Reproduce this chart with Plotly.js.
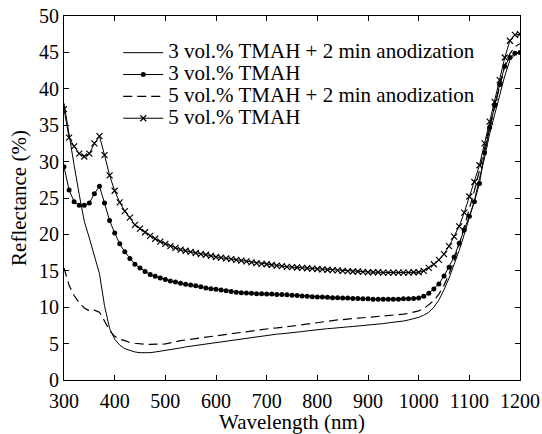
<!DOCTYPE html>
<html>
<head>
<meta charset="utf-8">
<script src="https://cdn.plot.ly/plotly-3.0.1.min.js"></script>
<style>
html,body{margin:0;padding:0;background:#fff;}
.modebar-container, .modebar { display: none !important; }
</style>
</head>
<body>
<div id="chart"></div>
<script>
// Wavelength (nm), 300..1200 in 10 nm steps
const wavelength = [300,310,320,330,340,350,360,370,380,390,400,410,420,430,440,450,460,470,480,490,500,510,520,530,540,550,560,570,580,590,600,610,620,630,640,650,660,670,680,690,700,710,720,730,740,750,760,770,780,790,800,810,820,830,840,850,860,870,880,890,900,910,920,930,940,950,960,970,980,990,1000,1010,1020,1030,1040,1050,1060,1070,1080,1090,1100,1110,1120,1130,1140,1150,1160,1170,1180,1190,1200];

const tmah3Anod = [38.0,33.5,29.5,25.5,21.8,19.5,17.0,14.6,10.2,7.1,5.6,4.8,4.3,4.05,3.85,3.75,3.7,3.75,3.85,3.95,4.0,4.1,4.25,4.4,4.55,4.65,4.75,4.85,5.0,5.1,5.2,5.25,5.35,5.45,5.55,5.65,5.75,5.85,5.95,6.05,6.1,6.2,6.3,6.35,6.4,6.45,6.55,6.65,6.75,6.85,6.9,6.95,7.05,7.1,7.2,7.25,7.3,7.35,7.4,7.45,7.55,7.6,7.7,7.75,7.85,7.9,8.0,8.1,8.25,8.4,8.6,8.9,9.3,10.0,11.0,12.4,14.0,15.9,17.8,20.0,22.2,24.6,27.7,30.5,33.8,36.6,39.1,41.8,43.9,44.7,45.0];

const tmah3 = [29.3,26.1,24.5,24.0,24.0,24.3,25.6,26.6,24.3,21.9,20.2,18.7,17.6,16.7,15.9,15.4,14.9,14.5,14.25,14.0,13.8,13.6,13.45,13.3,13.15,13.05,12.95,12.8,12.65,12.55,12.45,12.35,12.25,12.15,12.05,12.0,11.95,11.9,11.85,11.85,11.8,11.8,11.75,11.75,11.7,11.65,11.6,11.55,11.5,11.45,11.4,11.4,11.35,11.3,11.3,11.25,11.25,11.2,11.2,11.15,11.15,11.1,11.1,11.1,11.1,11.1,11.1,11.15,11.15,11.2,11.25,11.5,11.9,12.5,13.2,14.3,15.5,16.9,18.8,20.6,22.5,24.5,27.0,31.2,34.7,37.7,40.6,43.1,44.3,44.9,45.0];

const tmah5Anod = [15.4,13.0,11.6,10.6,9.9,9.5,9.6,9.3,8.1,6.8,6.0,5.6,5.4,5.15,5.05,4.95,4.9,4.9,4.9,4.9,4.95,5.1,5.3,5.4,5.5,5.6,5.7,5.8,5.9,6.0,6.1,6.2,6.3,6.4,6.45,6.5,6.6,6.75,6.85,6.95,7.0,7.1,7.15,7.2,7.3,7.4,7.5,7.6,7.7,7.8,7.9,8.0,8.1,8.2,8.25,8.3,8.4,8.45,8.5,8.55,8.6,8.65,8.7,8.75,8.85,8.9,8.95,9.05,9.15,9.3,9.5,9.8,10.3,10.9,11.8,13.0,14.6,16.4,18.6,21.0,23.5,26.0,28.8,31.9,34.9,37.5,40.4,43.2,44.8,45.8,46.2];

const tmah5 = [37.2,33.3,32.1,31.1,30.7,31.1,32.5,33.5,30.9,28.1,26.0,24.4,23.2,22.3,21.3,20.8,20.3,19.8,19.4,19.0,18.7,18.4,18.15,17.9,17.75,17.6,17.45,17.3,17.2,17.05,16.9,16.8,16.7,16.6,16.5,16.4,16.3,16.15,16.05,15.95,15.9,15.8,15.7,15.65,15.55,15.5,15.45,15.4,15.35,15.3,15.25,15.2,15.15,15.1,15.05,15.0,14.95,14.9,14.9,14.85,14.8,14.8,14.8,14.75,14.75,14.75,14.75,14.75,14.75,14.8,14.8,15.0,15.4,15.9,16.5,17.3,18.4,19.7,21.1,23.0,25.2,27.2,29.5,32.5,35.5,38.2,41.2,44.3,46.6,47.4,47.5];

const seriesNames = ["3 vol.% TMAH + 2 min anodization","3 vol.% TMAH","5 vol.% TMAH + 2 min anodization","5 vol.% TMAH"];
const xTicks = [300,400,500,600,700,800,900,1000,1100,1200];
const yTicks = [0,5,10,15,20,25,30,35,40,45,50];

const legendLabel = (s) => '<span style="font-size:21px">' + s + '</span>';

const traces = [
  {x: wavelength, y: tmah3Anod, name: legendLabel(seriesNames[0]), mode: "lines",
   line: {color: "#000", width: 1}},
  {x: wavelength, y: tmah3, name: legendLabel(seriesNames[1]), mode: "lines+markers",
   line: {color: "#000", width: 1}, marker: {symbol: "circle", size: 5, color: "#000"}},
  {x: wavelength, y: tmah5Anod, name: legendLabel(seriesNames[2]), mode: "lines",
   line: {color: "#000", width: 1.2, dash: "9px,5px"}},
  {x: wavelength, y: tmah5, name: legendLabel(seriesNames[3]), mode: "lines+markers",
   line: {color: "#000", width: 1}, marker: {symbol: "x-thin", size: 6, color: "#000", line: {color: "#000", width: 1.2}}}
];

const layout = {
  width: 542, height: 434,
  margin: {l: 64, r: 22, t: 16, b: 54},
  paper_bgcolor: "#fff", plot_bgcolor: "#fff",
  showlegend: true,
  legend: {x: 0.119, y: 0.943, xanchor: "left", yanchor: "top", bgcolor: "rgba(0,0,0,0)",
           font: {family: "Liberation Serif", size: 14.5, color: "#000"}, tracegroupgap: 0, itemwidth: 40},
  xaxis: {range: [300, 1200], tickvals: xTicks, ticklabelstandoff: 3,
    showgrid: false, zeroline: false, showline: true, linecolor: "#000", linewidth: 1,
    mirror: "ticks", ticks: "inside", ticklen: 5, tickcolor: "#000", tickwidth: 1,
    tickfont: {family: "Liberation Serif", size: 20, color: "#000"},
    title: {text: "Wavelength (nm)", font: {family: "Liberation Serif", size: 21, color: "#000"}, standoff: 2}},
  yaxis: {range: [0, 50], tickvals: yTicks,
    showgrid: false, zeroline: false, showline: true, linecolor: "#000", linewidth: 1,
    mirror: "ticks", ticks: "inside", ticklen: 5, tickcolor: "#000", tickwidth: 1,
    tickfont: {family: "Liberation Serif", size: 20, color: "#000"},
    title: {text: "Reflectance (%)", font: {family: "Liberation Serif", size: 21, color: "#000"}, standoff: 6}}
};

Plotly.newPlot("chart", traces, layout);
</script>
</body>
</html>
